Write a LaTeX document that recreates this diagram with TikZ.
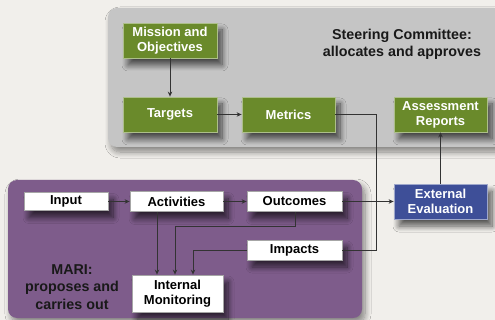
\documentclass[tikz,border=0pt]{standalone}
\usepackage{fontspec}
\setmainfont{Liberation Sans}
\usetikzlibrary{arrows.meta,shadows.blur}
\definecolor{bgc}{HTML}{F1EFEB}
\definecolor{panelgray}{HTML}{C5C5C5}
\definecolor{panelpurple}{HTML}{7E5C8B}
\definecolor{boxgreen}{HTML}{6A8A2B}
\definecolor{boxblue}{HTML}{3E4F98}
\definecolor{linec}{HTML}{333333}
\tikzset{
  panel/.style={rounded corners=9pt, blur shadow={shadow xshift=3pt, shadow yshift=-5pt, shadow blur radius=6pt, shadow blur steps=10, shadow opacity=45}},
  basebox/.style={font=\bfseries\fontsize{13}{15}\selectfont, align=center, inner sep=1pt, line width=0.8pt,
     blur shadow={shadow xshift=5pt, shadow yshift=-7pt, shadow blur radius=6pt, shadow blur steps=10, shadow opacity=65}},
  greenbox/.style={basebox, fill=boxgreen, draw=boxgreen!55!white, text=white},
  bluebox/.style={basebox, fill=boxblue, draw=boxblue!50!white, text=white},
  whitebox/.style={basebox, fill=white, draw=gray!70, text=black},
  conn/.style={draw=linec, line width=0.9pt},
  arr/.style={conn, -{Stealth[length=5pt,width=4.5pt]}},
  paneltext/.style={font=\bfseries\fontsize{14.3}{16.5}\selectfont, align=center, text=black!90}
}
\begin{document}
\begin{tikzpicture}[x=1pt,y=-1pt]
\useasboundingbox (0,0) rectangle (495,320);
\fill[bgc] (0,0) rectangle (495,320);
% panels
\fill[panelgray, panel] (108,8) rectangle (503,147);
\fill[panelpurple, panel] (8,180) rectangle (362,318);
\node[paneltext] (sc) at (402,44.5) {Steering Committee:\\allocates and approves};
\node[paneltext, font=\bfseries\fontsize{14.3}{17.5}\selectfont] (mari) at (72,287) {MARI:\\proposes and\\carries out};
% green boxes
\node[greenbox, minimum width=94pt, minimum height=35pt] (mission) at (170,40.5) {Mission and\\Objectives};
\node[greenbox, minimum width=94pt, minimum height=35pt] (targets) at (170,114.5) {Targets};
\node[greenbox, minimum width=93pt, minimum height=35pt] (metrics) at (288.5,114.5) {Metrics};
\node[greenbox, minimum width=93pt, minimum height=35pt] (reports) at (440.5,114.5) {Assessment\\Reports};
\node[bluebox, minimum width=93pt, minimum height=35pt] (external) at (440.5,201.5) {External\\Evaluation};
% white boxes
\node[whitebox, minimum width=84pt, minimum height=18pt] (input) at (66,201.5) {Input};
\node[whitebox, minimum width=93pt, minimum height=20pt] (activities) at (176.5,201.5) {Activities};
\node[whitebox, minimum width=95pt, minimum height=20pt] (outcomes) at (294.5,201.5) {Outcomes};
\node[whitebox, minimum width=95pt, minimum height=20pt] (impacts) at (294.5,250) {Impacts};
\node[whitebox, minimum width=91pt, minimum height=37pt] (internal) at (177.5,293.5) {Internal\\Monitoring};
% coordinates
\coordinate (mc) at (376,114.5);
\coordinate (ic) at (376,250);
% connectors
\draw[arr] (mission) -- (targets);
\draw[arr] (targets) -- (metrics);
\draw[conn] (metrics.east) -- (mc) -- (ic) -- (impacts.east);
\draw[arr] (external) -- (reports);
\draw[arr] (input) -- (activities);
\draw[arr] (activities) -- (outcomes);
\draw[arr] (outcomes) -- (external);
\draw[arr] (activities.south -| 157,0) -- (internal.north -| 157,0);
\draw[arr] (outcomes.south -| 295,0) |- (175,226) -- (internal.north -| 175,0);
\draw[arr] (impacts.west) -| (internal.north -| 193,0);
\end{tikzpicture}
\end{document}
